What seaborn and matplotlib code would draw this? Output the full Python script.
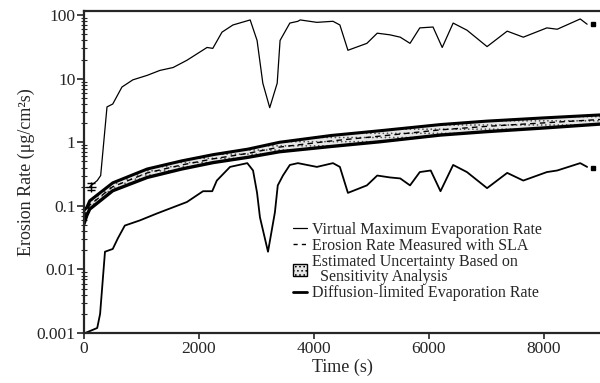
import numpy as np
import pandas as pd
import matplotlib
matplotlib.use("Agg")
import matplotlib.pyplot as plt
from matplotlib.patches import Patch
from matplotlib.lines import Line2D
import seaborn as sns

# virtual maximum evaporation rate (upper trace)
upper_t = [100, 230, 290, 400, 500, 660, 850, 1100, 1320, 1550, 1790, 2140,
           2240, 2400, 2590, 2890, 3010, 3110, 3230, 3360, 3410, 3580, 3720,
           3760, 4050, 4330, 4450, 4590, 4920, 5100, 5320, 5500, 5670, 5840,
           6070, 6230, 6420, 6660, 7010, 7360, 7640, 8050, 8230, 8630, 8750]
upper_v = [0.2, 0.25, 0.3, 3.6, 4.0, 7.4, 9.6, 11.3, 13.5, 15, 19.5, 31,
           30, 54, 70, 84, 40, 8.5, 3.5, 8.5, 40, 75, 80,
           84, 77, 80, 70, 28, 36, 52, 49, 45, 36, 63,
           65, 31, 75, 58, 32, 56, 45, 63, 60, 87, 72]

# lower trace
lower_t = [20, 230, 280, 365, 500, 590, 710, 970, 1270, 1550, 1790, 2070,
           2230, 2310, 2540, 2840, 2940, 3010, 3060, 3200, 3320, 3370, 3460,
           3580, 3720, 4050, 4330, 4450, 4590, 4920, 5100, 5320, 5500, 5670,
           5840, 6030, 6200, 6420, 6660, 7010, 7360, 7640, 8050, 8230, 8630, 8750]
lower_v = [0.001, 0.0012, 0.002, 0.019, 0.021, 0.031, 0.049, 0.059, 0.076, 0.095, 0.115, 0.17,
           0.17, 0.25, 0.41, 0.47, 0.36, 0.16, 0.066, 0.019, 0.079, 0.21, 0.30,
           0.44, 0.47, 0.41, 0.47, 0.41, 0.16, 0.21, 0.30, 0.28, 0.27, 0.21,
           0.34, 0.36, 0.17, 0.44, 0.34, 0.19, 0.33, 0.25, 0.34, 0.36, 0.47, 0.41]

# uncertainty band (diffusion-limited edges) and SLA-measured rate
band_t = [0, 50, 100, 500, 1100, 1700, 2250, 2850, 3400, 4300, 5150, 6200, 7000, 8000, 9000]
band_hi = [0.085, 0.095, 0.12, 0.23, 0.38, 0.51, 0.64, 0.78, 1.0, 1.28, 1.52, 1.9, 2.15, 2.42, 2.7]
band_lo = [0.052, 0.071, 0.089, 0.173, 0.28, 0.38, 0.48, 0.58, 0.71, 0.86, 1.02, 1.3, 1.47, 1.68, 1.94]
sla_v = [0.066, 0.082, 0.103, 0.2, 0.33, 0.44, 0.55, 0.67, 0.84, 1.05, 1.25, 1.57, 1.78, 2.02, 2.29]

end_t = [8850, 8850]
end_v = [72, 0.40]

yticks = [0.001, 0.01, 0.1, 1, 10, 100]
ytick_labels = ["0.001", "0.01", "0.1", "1", "10", "100"]
xticks = [0, 2000, 4000, 6000, 8000]

sns.set_theme(style="ticks")
plt.rcParams["font.family"] = ["Liberation Serif", "DejaVu Serif"]
plt.rcParams["hatch.linewidth"] = 0.6

fig = plt.figure(figsize=(6, 3.83), dpi=100)
ax = fig.add_axes([0.14, 0.1305, 0.86, 0.8407])

sns.lineplot(x=upper_t, y=upper_v, ax=ax, color="black", lw=0.9, sort=False)
sns.lineplot(x=lower_t, y=lower_v, ax=ax, color="black", lw=1.3, sort=False)

ax.fill_between(band_t, band_lo, band_hi, facecolor="#e6e6e6", edgecolor="#555555",
                hatch="....", lw=0)
sns.lineplot(x=band_t, y=band_hi, ax=ax, color="black", lw=2.2)
sns.lineplot(x=band_t, y=band_lo, ax=ax, color="black", lw=2.4)
sns.lineplot(x=band_t, y=sla_v, ax=ax, color="black", lw=1.0, linestyle=(0, (4, 3)))

ax.plot(end_t, end_v, "s", color="black", ms=3.5)
ax.errorbar([120], [0.2], yerr=[[0.025], [0.025]], fmt="+", color="black",
            ms=7, capsize=3, lw=0.8)

ax.set_yscale("log")
ax.set_xlim(0, 8974)
ax.set_ylim(0.001, 116)
ax.set_yticks(yticks)
ax.set_yticklabels(ytick_labels)
ax.set_xticks(xticks)
ax.tick_params(axis="y", direction="out", length=5, width=1.2, pad=1, labelsize=12.5)
ax.tick_params(axis="y", which="minor", direction="inout", length=4, width=0.8)
ax.tick_params(axis="x", direction="out", length=4, width=1.2, pad=2, labelsize=12.5)
for side in ["left", "top", "bottom"]:
    ax.spines[side].set_linewidth(1.6)
ax.spines["right"].set_visible(False)

ax.set_xlabel("Time (s)", fontsize=13, labelpad=1)
ax.set_ylabel("Erosion Rate (\u03bcg/cm\u00b2s)", fontsize=13, labelpad=1)

handles = [
    Line2D([], [], color="black", lw=0.9),
    Line2D([], [], color="black", lw=1.0, linestyle=(0, (3, 3))),
    Patch(facecolor="#e6e6e6", edgecolor="black", hatch="...."),
    Line2D([], [], color="black", lw=2.0),
]
labels = [
    "Virtual Maximum Evaporation Rate",
    "Erosion Rate Measured with SLA",
    "Estimated Uncertainty Based on\n  Sensitivity Analysis",
    "Diffusion-limited Evaporation Rate",
]
leg = ax.legend(handles, labels, loc="upper left", bbox_to_anchor=(0.405, 0.345),
                frameon=False, fontsize=11.5, handlelength=0.9, handletextpad=0.3,
                labelspacing=0.0, borderaxespad=0, borderpad=0)
for txt in leg.get_texts():
    txt.set_linespacing(0.95)

fig.savefig("out.png", dpi=100)
